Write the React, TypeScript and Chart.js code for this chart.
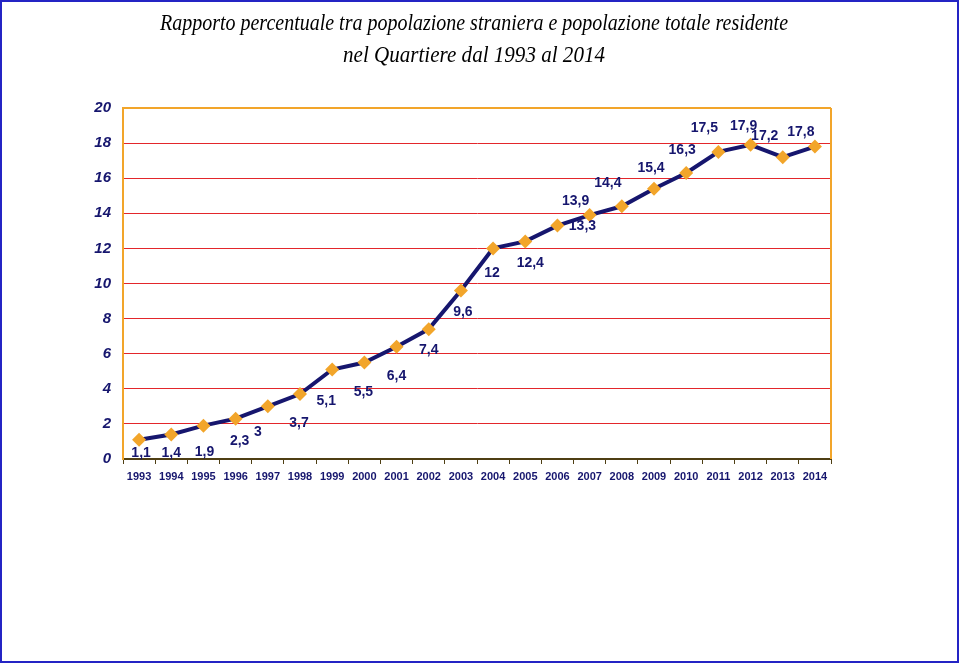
import React, { useEffect, useRef } from "react";
import { Chart, registerables } from "chart.js";

Chart.register(...registerables);

const years = ["1993","1994","1995","1996","1997","1998","1999","2000","2001","2002","2003","2004","2005","2006","2007","2008","2009","2010","2011","2012","2013","2014"];
const percentages = [1.1,1.4,1.9,2.3,3,3.7,5.1,5.5,6.4,7.4,9.6,12,12.4,13.3,13.9,14.4,15.4,16.3,17.5,17.9,17.2,17.8];
const titleLine1 = "Rapporto percentuale tra popolazione straniera e popolazione totale residente";
const titleLine2 = "nel Quartiere dal 1993 al 2014";

// label placement relative to each point (as in the original, manually placed labels)
const labelDx = [2,0,1,4,-10,-1,-6,-1,0,0,2,-1,5,25,-14,-14,-3,-4,-14,-7,-18,-14];
const labelDy = [13,19,26,23,26,29,32,30,29,21,22,25,22,1,-14,-23,-21,-23,-24,-19,-21,-14];

const NAVY = "#16166e";
const ORANGE = "#f2a52a";
const RED = "#e3262b";
const AXIS = "#4f3f14";

export default function App() {
  const ref = useRef<HTMLCanvasElement | null>(null);
  useEffect(() => {
    document.body.style.margin = "0";
    document.body.style.overflow = "hidden";
    const canvas = ref.current!;
    const deco = {
      id: "deco",
      beforeDraw(chart: any) {
        const ctx = chart.ctx;
        ctx.save();
        ctx.fillStyle = "#ffffff";
        ctx.fillRect(0, 0, chart.width, chart.height);
        ctx.fillStyle = "#000";
        ctx.textBaseline = "alphabetic";
        ctx.textAlign = "center";
        ctx.font = 'italic 24px "Liberation Serif"';
        ctx.fillText(titleLine1, 474, 30, 628);
        ctx.fillText(titleLine2, 474, 62, 262);
        ctx.restore();
      },
      afterDraw(chart: any) {
        const ctx = chart.ctx;
        const a = chart.chartArea;
        ctx.save();
        ctx.strokeStyle = ORANGE;
        ctx.lineWidth = 2;
        ctx.beginPath();
        ctx.moveTo(a.right, a.top);
        ctx.lineTo(a.right, a.bottom);
        ctx.stroke();
        ctx.strokeStyle = "#2424c4";
        ctx.lineWidth = 2;
        ctx.strokeRect(1, 1, chart.width - 2, chart.height - 2);
        ctx.restore();
      },
      afterDatasetsDraw(chart: any) {
        const ctx = chart.ctx;
        const meta = chart.getDatasetMeta(0);
        ctx.save();
        ctx.fillStyle = NAVY;
        ctx.font = 'bold 14px "Liberation Sans", Arial, sans-serif';
        ctx.textAlign = "center";
        ctx.textBaseline = "middle";
        meta.data.forEach((pt: any, i: number) => {
          const txt = String(percentages[i]).replace(".", ",");
          ctx.fillText(txt, pt.x + labelDx[i], pt.y + labelDy[i]);
        });
        ctx.restore();
      },
    };
    const chart = new Chart(canvas, {
      type: "line",
      data: {
        labels: years,
        datasets: [
          {
            data: percentages,
            borderColor: NAVY,
            borderWidth: 4,
            pointStyle: "rectRot",
            pointRadius: 7,
            pointBackgroundColor: ORANGE,
            pointBorderColor: ORANGE,
            pointBorderWidth: 0,
            tension: 0,
          },
        ],
      },
      options: {
        responsive: false,
        animation: false,
        layout: { padding: { top: 108, right: 128, bottom: 174, left: 0 } },
        plugins: { legend: { display: false }, title: { display: false }, tooltip: { enabled: false } },
        scales: {
          x: {
            type: "category",
            offset: true,
            afterFit: (s: any) => { s.height = 30; },
            grid: { offset: true, drawOnChartArea: false, drawTicks: true, tickLength: 5, color: AXIS, lineWidth: 1 },
            border: { display: true, color: AXIS, width: 2 },
            ticks: { color: NAVY, font: { family: '"Liberation Sans", Arial, sans-serif', size: 11, weight: "bold" }, padding: 6, maxRotation: 0, autoSkip: false },
          },
          y: {
            min: 0,
            max: 20,
            afterFit: (s: any) => { s.width = 123; },
            ticks: { stepSize: 2, color: NAVY, padding: 12, font: { family: '"Liberation Sans", Arial, sans-serif', size: 15, weight: "bold", style: "italic" } },
            grid: {
              drawTicks: false,
              color: (c: any) => (c.tick.value === 0 ? "rgba(0,0,0,0)" : c.tick.value === 20 ? ORANGE : RED),
              lineWidth: (c: any) => (c.tick.value === 20 ? 2 : 1),
            },
            border: { display: true, color: ORANGE, width: 2 },
          },
        },
      },
      plugins: [deco],
    } as any);
    return () => chart.destroy();
  }, []);
  return (
    <div style={{ width: 959, height: 663, position: "relative" }}>
      <canvas ref={ref} width={959} height={663} style={{ display: "block" }} />
    </div>
  );
}
